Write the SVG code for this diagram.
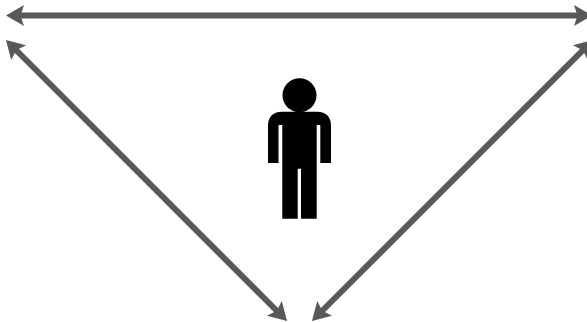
<svg xmlns="http://www.w3.org/2000/svg" width="587" height="322" viewBox="0 0 587 322">
<style>
.c{stroke:#595959;stroke-width:6;fill:none;marker-start:url(#a);marker-end:url(#a)}
.p{fill:#000}
</style>
<defs>
<marker id="a" markerUnits="userSpaceOnUse" markerWidth="22" markerHeight="24" refX="8" refY="12" orient="auto-start-reverse" viewBox="0 0 22 24">
<path d="M18 12L0 22.500L3.500 12L0 1.500Z" fill="#595959"/>
</marker>
</defs>
<rect width="587" height="322" fill="#fff"/>
<g id="connectors">
<line class="c" x1="16" y1="15.500" x2="582" y2="15.500"/>
<line class="c" x1="13" y1="47" x2="280" y2="314"/>
<line class="c" x1="586" y1="47" x2="319" y2="314"/>
</g>
<g id="person">
<circle class="p" cx="299.500" cy="95.300" r="17"/>
<path class="p" d="M282 111.700H317Q331 112 331 126V163H320.300V125H316.700V218.700H301V168.700H297.700V218.700H282.300V125H278.500V163H268V126Q268 112 282 111.700Z"/>
</g>
</svg>
